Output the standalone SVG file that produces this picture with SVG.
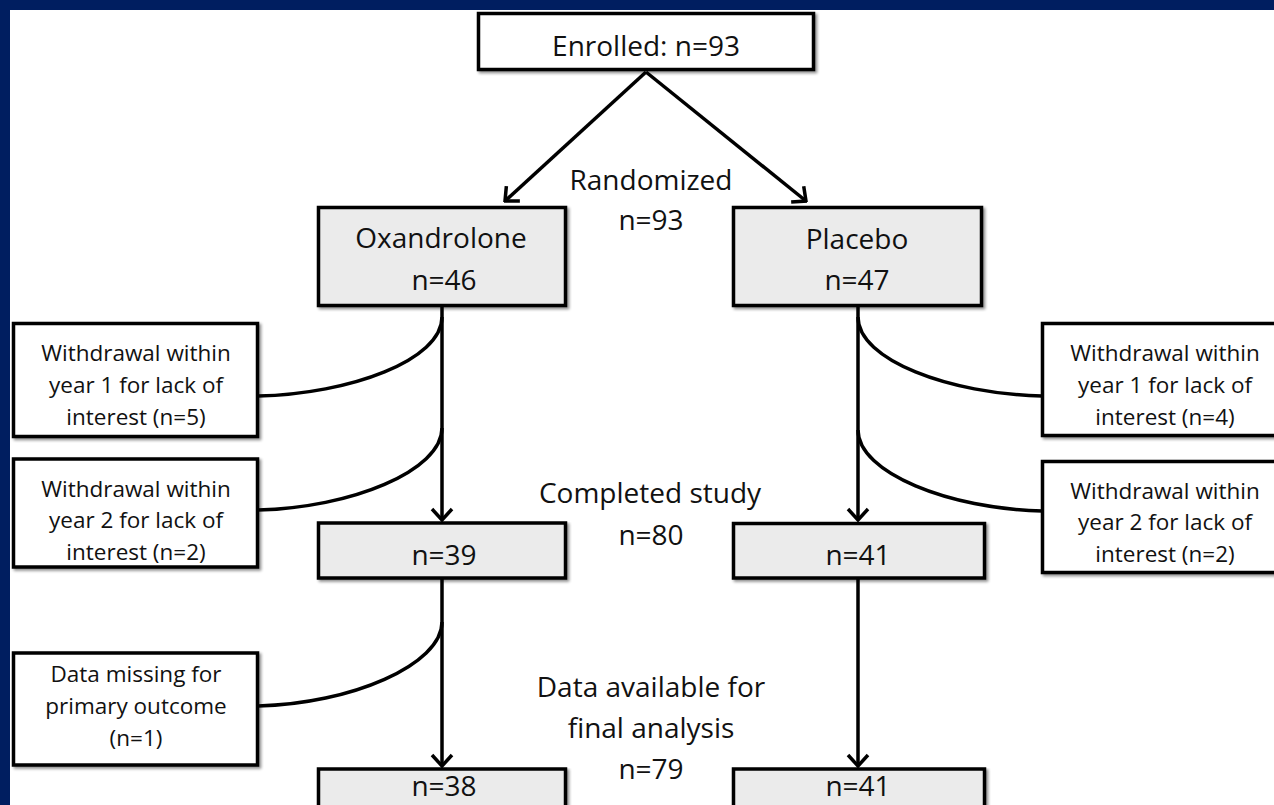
<svg xmlns="http://www.w3.org/2000/svg" width="1274" height="805" viewBox="0 0 1274 805">
<style>
.box{stroke:#000;stroke-width:3.5;filter:url(#sh)}
.w{fill:#fff}
.g{fill:#ebebeb}
.t{font-family:"Open Sans","Noto Sans",sans-serif;fill:#111;text-anchor:middle}
.big{font-size:28px}
.sm{font-size:22.5px}
.c{fill:none;stroke:#000;stroke-width:3.5}
.a{marker-end:url(#ah)}
</style>
<defs>
<filter id="sh" x="-5%" y="-5%" width="115%" height="130%">
<feGaussianBlur in="SourceAlpha" stdDeviation="1.5"/>
<feOffset dx="2" dy="2" result="b"/>
<feComponentTransfer><feFuncA type="linear" slope="0.45"/></feComponentTransfer>
<feMerge><feMergeNode/><feMergeNode in="SourceGraphic"/></feMerge>
</filter>
<marker id="ah" viewBox="-14 -12 16 24" markerWidth="16" markerHeight="24" refX="0" refY="0" orient="auto" markerUnits="userSpaceOnUse">
<path d="M-11,-10 L0,0 L-11,10" fill="none" stroke="#000" stroke-width="3.5" stroke-linejoin="miter"/>
</marker>
</defs>
<rect x="0" y="0" width="1274" height="805" fill="#fff"/>
<rect x="0" y="0" width="1274" height="10" fill="#001e60"/>
<rect x="0" y="0" width="10" height="805" fill="#001e60"/>

<g id="connectors">
<path class="c a" d="M646,72 L505,201"/>
<path class="c a" d="M646,72 L806,201"/>
<path class="c a" d="M442,307 L442,520"/>
<path class="c a" d="M858,307 L858,520"/>
<path class="c a" d="M442,579 L442,766"/>
<path class="c a" d="M858,579 L858,766"/>
<path class="c" d="M442,317 C442,360 350,394 258,396"/>
<path class="c" d="M442,428 C442,471 350,508 258,510"/>
<path class="c" d="M442,622 C442,665 350,704 258,706"/>
<path class="c" d="M858,317 C858,360 950,394 1042,396"/>
<path class="c" d="M858,430 C858,473 950,509 1042,511"/>
</g>

<g id="enrolled">
<rect class="box w" x="478.5" y="13.5" width="335" height="56"/>
<text class="t big" x="646" y="56">Enrolled: n=93</text>
</g>
<g id="randomized">
<text class="t big" x="651" y="190">Randomized</text>
<text class="t big" x="651" y="230">n=93</text>
</g>
<g id="oxandrolone">
<rect class="box g" x="318.5" y="207.5" width="247" height="98"/>
<text class="t big" x="441" y="248">Oxandrolone</text>
<text class="t big" x="444" y="290">n=46</text>
</g>
<g id="placebo">
<rect class="box g" x="733.5" y="207.5" width="248" height="98"/>
<text class="t big" x="857" y="249">Placebo</text>
<text class="t big" x="857" y="290">n=47</text>
</g>
<g id="withdraw-ox-1">
<rect class="box w" x="13.5" y="323.5" width="244" height="113"/>
<text class="t sm" x="136" y="361">Withdrawal within</text>
<text class="t sm" x="136" y="393">year 1 for lack of</text>
<text class="t sm" x="136" y="425">interest (n=5)</text>
</g>
<g id="withdraw-ox-2">
<rect class="box w" x="13.5" y="459" width="244" height="108"/>
<text class="t sm" x="136" y="497">Withdrawal within</text>
<text class="t sm" x="136" y="528">year 2 for lack of</text>
<text class="t sm" x="136" y="560">interest (n=2)</text>
</g>
<g id="withdraw-pl-1">
<rect class="box w" x="1042.5" y="323.5" width="250" height="112"/>
<text class="t sm" x="1165" y="361">Withdrawal within</text>
<text class="t sm" x="1165" y="393">year 1 for lack of</text>
<text class="t sm" x="1165" y="425">interest (n=4)</text>
</g>
<g id="withdraw-pl-2">
<rect class="box w" x="1042.5" y="461.5" width="250" height="111"/>
<text class="t sm" x="1165" y="499">Withdrawal within</text>
<text class="t sm" x="1165" y="530">year 2 for lack of</text>
<text class="t sm" x="1165" y="562">interest (n=2)</text>
</g>
<g id="completed">
<text class="t big" x="650" y="503">Completed study</text>
<text class="t big" x="651" y="545">n=80</text>
</g>
<g id="ox-completed">
<rect class="box g" x="318.5" y="523" width="247" height="55"/>
<text class="t big" x="444" y="565">n=39</text>
</g>
<g id="pl-completed">
<rect class="box g" x="733.5" y="523.5" width="251" height="54.5"/>
<text class="t big" x="858" y="565">n=41</text>
</g>
<g id="missing">
<rect class="box w" x="13.5" y="653" width="244" height="112"/>
<text class="t sm" x="136" y="682">Data missing for</text>
<text class="t sm" x="136" y="714">primary outcome</text>
<text class="t sm" x="136" y="746">(n=1)</text>
</g>
<g id="final">
<text class="t big" x="651" y="697">Data available for</text>
<text class="t big" x="651" y="738">final analysis</text>
<text class="t big" x="651" y="779">n=79</text>
</g>
<g id="ox-final">
<rect class="box g" x="318.5" y="769" width="247" height="60"/>
<text class="t big" x="444" y="796">n=38</text>
</g>
<g id="pl-final">
<rect class="box g" x="733.5" y="769" width="251" height="60"/>
<text class="t big" x="858" y="796">n=41</text>
</g>
</svg>
